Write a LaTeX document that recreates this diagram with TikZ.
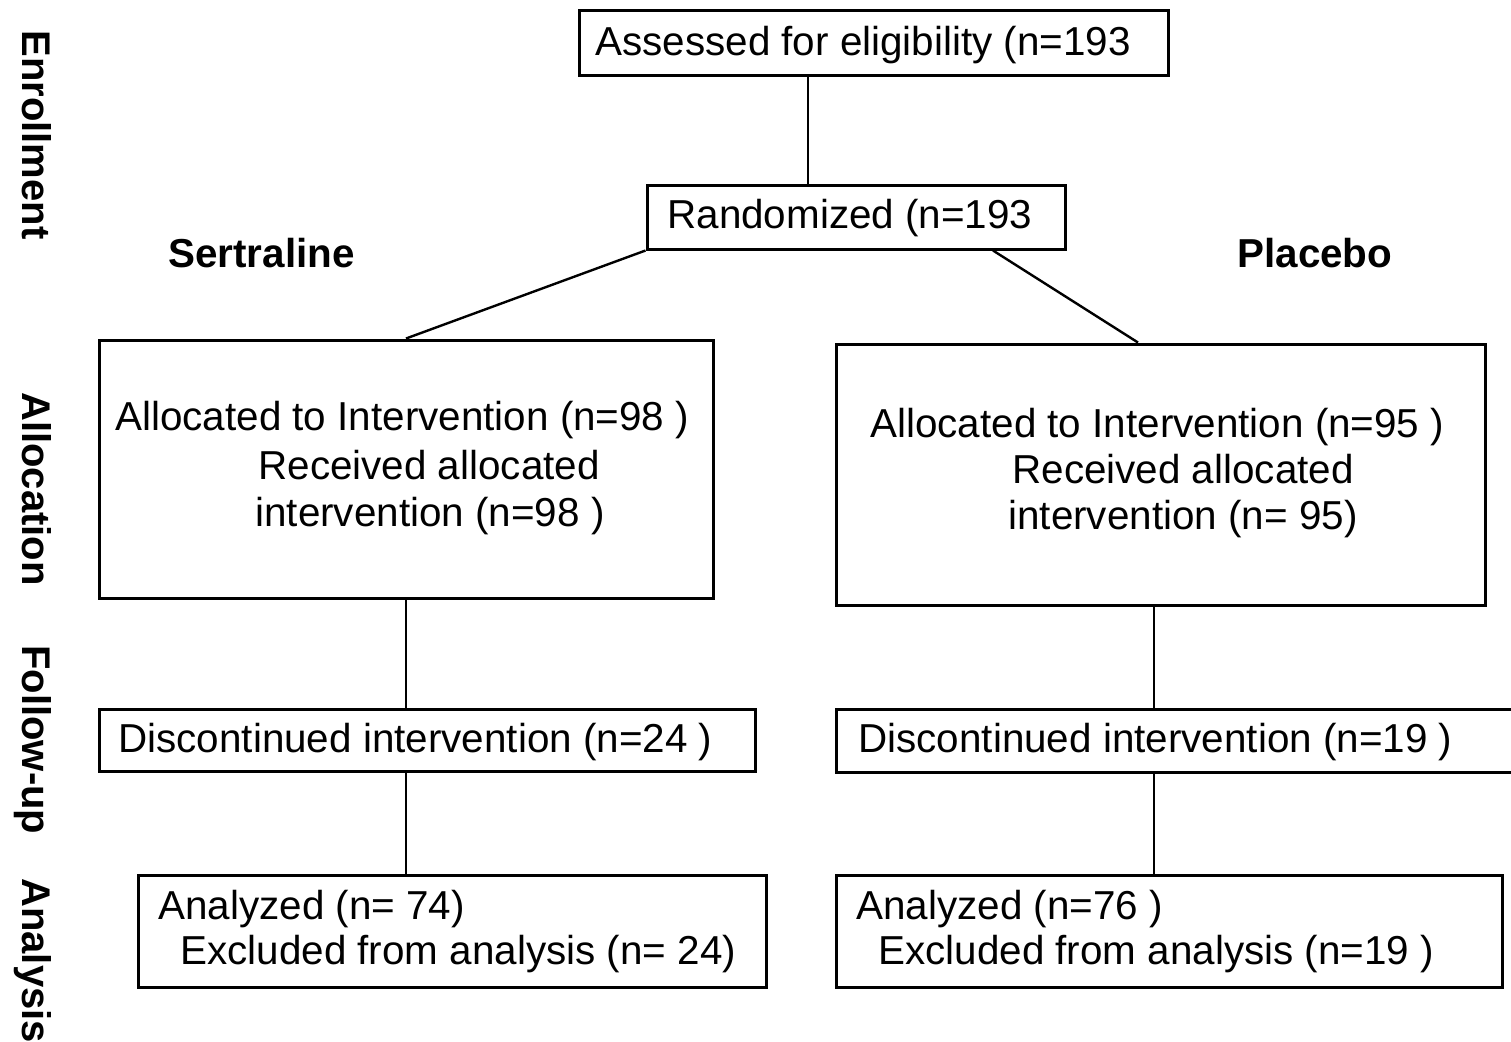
\documentclass[tikz,border=0pt]{standalone}
\usepackage{fontspec}
\setmainfont{Liberation Sans}
\begin{document}
\begin{tikzpicture}[x=0.5pt,y=-0.5pt,
 box/.style={draw=black,line width=1.5pt,inner sep=0pt,rectangle},
 txt/.style={inner sep=0pt,anchor=base west,font=\fontsize{20.2}{24}\selectfont},
 head/.style={inner sep=0pt,anchor=base west,font=\fontsize{20.2}{24}\selectfont\bfseries},
 side/.style={inner sep=0pt,anchor=base west,rotate=-90,font=\fontsize{20}{24}\selectfont\bfseries},
 link/.style={draw=black,line width=1.2pt}]
\useasboundingbox[fill=white] (0,0) rectangle (1511,1041);

% side labels
\node[side] (sEnr) at (22,30) {Enrollment};
\node[side] (sAll) at (22,392) {Allocation};
\node[side] (sFol) at (22,645) {Follow-up};
\node[side] (sAna) at (22,878) {Analysis};

% boxes
\node[box,minimum width=294.5pt,minimum height=32.5pt] (assess) at (873.5,42.5) {};
\node[box,minimum width=209pt,minimum height=32pt] (rand) at (856,217) {};
\node[box,minimum width=307pt,minimum height=129pt] (allocL) at (406,469) {};
\node[box,minimum width=324.5pt,minimum height=130.5pt] (allocR) at (1160.5,474.5) {};
\node[box,minimum width=328pt,minimum height=31pt] (discL) at (427,740) {};
\node[box,minimum width=339.5pt,minimum height=31.5pt] (discR) at (1175.5,740.5) {};
\node[box,minimum width=314pt,minimum height=56pt] (anaL) at (452,931) {};
\node[box,minimum width=333pt,minimum height=56pt] (anaR) at (1169,931) {};

% texts
\node[txt] (tAssess) at (595,55) {Assessed for eligibility (n=193};
\node[txt] (tRand) at (667,228) {Randomized (n=193};
\node[head] (tSert) at (168,267) {Sertraline};
\node[head] (tPlac) at (1237,267) {Placebo};

\node[txt] (tAL1) at (115,430) {Allocated to Intervention (n=98 )};
\node[txt] (tAL2) at (258,479) {Received allocated};
\node[txt] (tAL3) at (255,526) {intervention (n=98 )};

\node[txt] (tAR1) at (870,437) {Allocated to Intervention (n=95 )};
\node[txt] (tAR2) at (1012,483) {Received allocated};
\node[txt] (tAR3) at (1008,529) {intervention (n= 95)};

\node[txt] (tDL) at (118,752) {Discontinued intervention (n=24 )};
\node[txt] (tDR) at (858,752) {Discontinued intervention (n=19 )};

\node[txt] (tNL1) at (158,919) {Analyzed (n= 74)};
\node[txt] (tNL2) at (180,964) {Excluded from analysis (n= 24)};
\node[txt] (tNR1) at (856,919) {Analyzed (n=76 )};
\node[txt] (tNR2) at (878,964) {Excluded from analysis (n=19 )};

% connector helper coordinates
\coordinate (xA) at (808,0);
\coordinate (xR1) at (993,0);
\coordinate (xR2) at (1138,0);
\coordinate (xL) at (406,0);
\coordinate (xRv) at (1154,0);

% connectors
\draw[link] (assess.south -| xA) -- (rand.north -| xA);
\draw[link] (rand.south west) -- (allocL.north -| xL);
\draw[link] (rand.south -| xR1) -- (allocR.north -| xR2);
\draw[link] (allocL.south -| xL) -- (discL.north -| xL);
\draw[link] (allocR.south -| xRv) -- (discR.north -| xRv);
\draw[link] (discL.south -| xL) -- (anaL.north -| xL);
\draw[link] (discR.south -| xRv) -- (anaR.north -| xRv);
\end{tikzpicture}
\end{document}
